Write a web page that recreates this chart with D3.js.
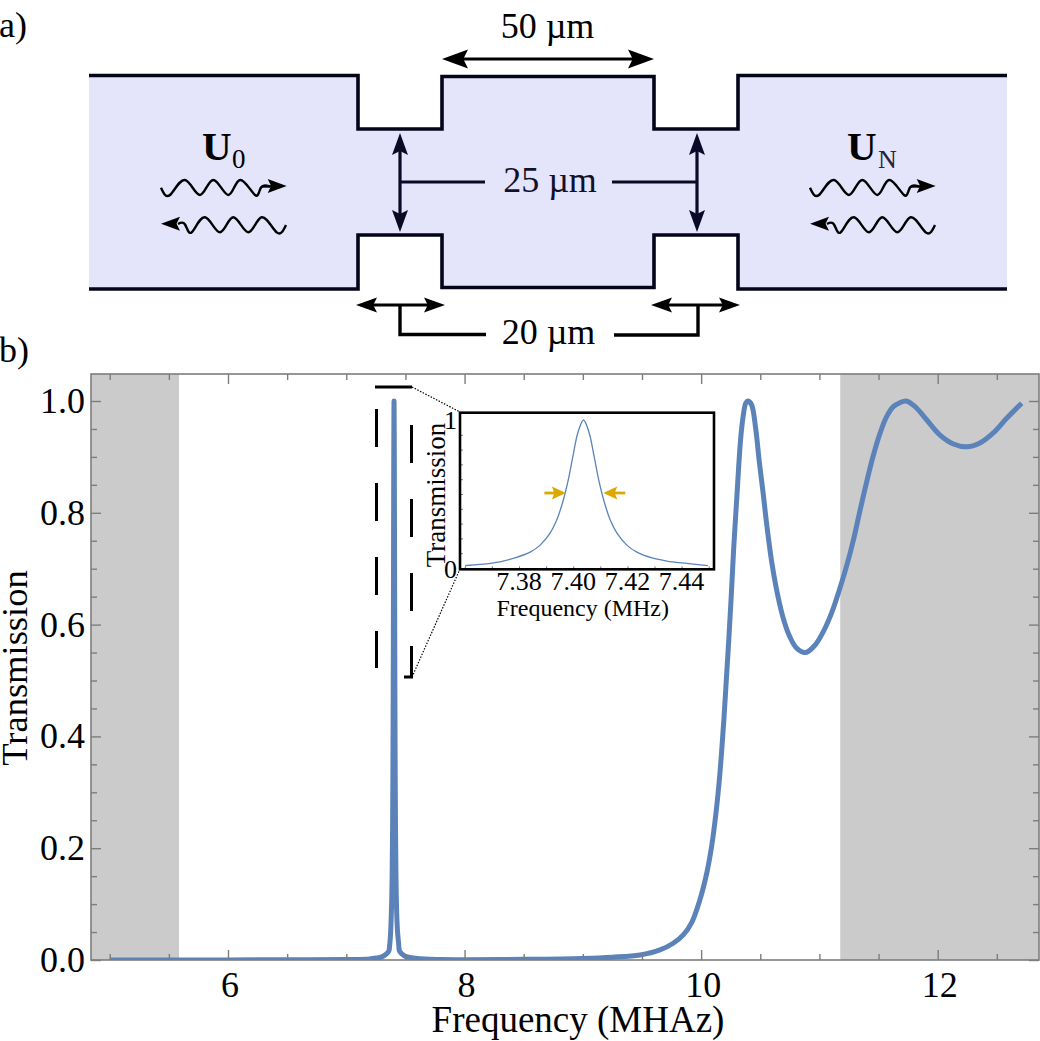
<!DOCTYPE html>
<html><head><meta charset="utf-8">
<script src="https://cdn.jsdelivr.net/npm/d3@7"></script>
<style>
html,body{margin:0;padding:0;background:#fff;overflow:hidden}
svg{display:block}
text{font-family:"Liberation Serif",serif;fill:#000}
</style></head><body>
<svg id="c" width="1040" height="1041"></svg>
<script>
// ---- chart data ----
const lowFreq  = [5,5.5,6,6.5,7,7.2,7.3,7.34];
const lowTrans = [0.0001,0.0001,0.0002,0.0003,0.0008,0.002,0.0055,0.011];
const peakFreq  = [7.3601,7.3656,7.3730,7.3785,7.3841,7.3877,7.3914,7.3940,7.3962,7.3981,7.3999,7.4018,7.4038,7.4058,7.4077,7.4095,7.4114,7.4136,7.4162,7.4199,7.4235,7.4291,7.4346,7.4420,7.4497];
const peakTrans = [0.016,0.024,0.042,0.068,0.107,0.153,0.234,0.328,0.449,0.588,0.756,0.919,1,0.919,0.756,0.588,0.449,0.328,0.234,0.153,0.107,0.068,0.047,0.031,0.016];
const midFreq  = [7.47,7.5,7.6,7.8,8,8.5,9,9.25];
const midTrans = [0.0108,0.0065,0.0025,0.0008,0.0006,0.0012,0.0028,0.005];
const riseFreq  = [9.483,9.652,9.764,9.849,9.92,9.99,10.047,10.09,10.125,10.153,10.173,10.193,10.214,10.233,10.253,10.275,10.303,10.320,10.337,10.357,10.377,10.399,10.427,10.461,10.492,10.526,10.554,10.596,10.647,10.703,10.75,10.807,10.883,10.962,11.032,11.103,11.173,11.23,11.286,11.342,11.399,11.455,11.512,11.568,11.625,11.68,11.733,11.809,11.908,12.02,12.133,12.245,12.357,12.47,12.583,12.71];
const riseTrans = [0.009,0.018,0.03,0.045,0.067,0.108,0.155,0.205,0.262,0.32,0.372,0.432,0.505,0.57,0.645,0.735,0.832,0.891,0.939,0.975,0.996,1,0.993,0.951,0.891,0.832,0.78,0.713,0.653,0.605,0.578,0.558,0.55,0.563,0.587,0.621,0.665,0.705,0.75,0.803,0.855,0.902,0.942,0.972,0.99,0.997,1,0.99,0.966,0.939,0.923,0.918,0.925,0.943,0.969,0.996];
const bandLow = [4.84,5.586];
const bandHigh = [11.176,12.855];
const xMajor = [6,8,10,12];
const xMinor = [5,5.5,6.5,7,7.5,8.5,9,9.5,10.5,11,11.5,12.5];
const yMajor = [0,0.2,0.4,0.6,0.8,1];
const yMinor = [0.05,0.1,0.15,0.25,0.3,0.35,0.45,0.5,0.55,0.65,0.7,0.75,0.85,0.9,0.95];
const insetXTicks = [7.38,7.40,7.42,7.44];
const insetXMinor = [7.36,7.37,7.39,7.41,7.43,7.45];
const insetYMinor = [0.1,0.2,0.3,0.4,0.5,0.6,0.7,0.8,0.9];
const halfMaxLeft = 7.3973, halfMaxRight = 7.4111, halfMax = 0.5;

// ---- schematic outline (pixel-space drawing, not data) ----
const channelTop = [[89,75.5],[358,75.5],[358,129],[442,129],[442,76.5],[654,76.5],[654,129],[738,129],[738,75.5],[1007,75.5]];
const channelBottom = [[89,289],[358,289],[358,235],[442,235],[442,287.5],[654,287.5],[654,235],[738,235],[738,289],[1007,289]];
const waveRight = [[161,187.7],[170,195],[185,180],[200,195],[213.3,180],[228.3,195],[240,180],[255,195],[261,187.5],[270,186.5]];
const waveLeft = [[286,225],[276.7,232.3],[261.7,217.3],[248.3,232.3],[233.3,217.3],[220,232.3],[205,217.3],[191.7,232.3],[185,224.5],[178,224]];

const svg = d3.select("#c");
const M = {l:91,r:1039,t:374,b:960};
const x = d3.scaleLinear().domain([6,12]).range([228,937.7]);
const y = d3.scaleLinear().domain([0,1]).range([960,401]);
const ix = d3.scaleLinear().domain([7.38,7.44]).range([519,681.6]);
const iy = d3.scaleLinear().domain([0,1]).range([568,420]);
const blue = "#5b83b9", frame = "#7d7d7d", navy = "#0a0a28", gold = "#dca800";

function txt(g,s,px,py,size,anchor,opts){
  const t=g.append("text").attr("x",px).attr("y",py).attr("font-size",size).attr("text-anchor",anchor||"start").text(s);
  if(opts&&opts.bold) t.attr("font-weight","bold");
  if(opts&&opts.rot!=null) t.attr("transform",`rotate(${opts.rot} ${px} ${py})`);
  if(opts&&opts.fill) t.style("fill",opts.fill);
  return t;
}
function head(g,tx,ty,dx,dy,L,H,col){
  const px=-dy,py=dx, bx=tx-dx*L, by=ty-dy*L, nx=tx-dx*L*0.82, ny=ty-dy*L*0.82;
  g.append("path").attr("d",`M${tx},${ty}L${bx+px*H/2},${by+py*H/2}L${nx},${ny}L${bx-px*H/2},${by-py*H/2}Z`).attr("fill",col);
}
function seg(g,pts,w,col){
  g.append("path").attr("d",d3.line()(pts)).attr("fill","none").attr("stroke",col).attr("stroke-width",w).attr("stroke-linejoin","miter");
}

// ---- panel a ----
const a = svg.append("g");
a.append("path").attr("d",d3.line()(channelTop.concat(channelBottom.slice().reverse()))+"Z").attr("fill","#e4e4fb");
seg(a,channelTop,3.6,"#05051a"); seg(a,channelBottom,3.6,"#05051a");

txt(a,"a)",-1,37,36);
txt(svg,"b)",-1,362,36);

// dimension: 50
seg(a,[[460,59],[636,59]],3.2,"#000");
head(a,442,59,-1,0,26,19,"#000"); head(a,654,59,1,0,26,19,"#000");
txt(a,"50 µm",547.5,38,36,"middle");
// dimension: 25
[400,697].forEach(vx=>{
  seg(a,[[vx,148],[vx,216]],3.2,navy);
  head(a,vx,133,0,-1,22,16,navy); head(a,vx,232,0,1,22,16,navy);
});
seg(a,[[400,182],[485,182]],3.2,navy);
seg(a,[[612,182],[697,182]],3.2,navy);
txt(a,"25 µm",550,192,36,"middle",{fill:"#111128"});
// dimension: 20
[[356,445],[651,740]].forEach(([p,q])=>{
  seg(a,[[p+14,305],[q-14,305]],2.8,"#000");
  head(a,p,305,-1,0,21,15,"#000"); head(a,q,305,1,0,21,15,"#000");
});
seg(a,[[400,305],[400,334.5],[486,334.5]],3.4,"#000");
seg(a,[[698,305],[698,335],[614,335]],3.4,"#000");
txt(a,"20 µm",548.5,344,36,"middle");
// waves
const wave = d3.line().curve(d3.curveNatural);
[0,649].forEach(off=>{
  const g=a.append("g").attr("transform",`translate(${off},0)`);
  g.append("path").attr("d",wave(waveRight)).attr("fill","none").attr("stroke","#000").attr("stroke-width",2.4);
  seg(g,[[262,186.6],[275,186.2]],2.4,"#000");
  head(g,286.7,186,1,0,19,14,"#000");
  g.append("path").attr("d",wave(waveLeft)).attr("fill","none").attr("stroke","#000").attr("stroke-width",2.4);
  head(g,161,223.7,-1,0,19,14,"#000");
});
txt(a,"U",202,160,41,"start",{bold:true});
txt(a,"0",232,168,27);
txt(a,"U",847,160,41,"start",{bold:true});
txt(a,"N",878,168,26,"start",{fill:"#222238"});

// ---- panel b ----
const b = svg.append("g");
[bandLow,bandHigh].forEach(d=>{
  b.append("rect").attr("x",Math.max(M.l,x(d[0]))).attr("y",M.t)
    .attr("width",Math.min(M.r,x(d[1]))-Math.max(M.l,x(d[0]))).attr("height",M.b-M.t).attr("fill","#cbcbcb");
});
svg.append("defs").append("clipPath").attr("id","plot").append("rect").attr("x",M.l).attr("y",M.t).attr("width",M.r-M.l).attr("height",M.b-M.t);

const freq = lowFreq.concat(peakFreq,midFreq,riseFreq);
const trans = lowTrans.concat(peakTrans,midTrans,riseTrans);
const line = d3.line().x(i=>x(freq[i])).y(i=>y(trans[i])).curve(d3.curveCatmullRom.alpha(0.5));
b.append("path").attr("clip-path","url(#plot)").attr("d",line(d3.range(freq.length)))
  .attr("fill","none").attr("stroke",blue).attr("stroke-width",5).attr("stroke-linejoin","round");

function styleAxis(g,col,sw){ g.selectAll("path").remove(); g.selectAll("line").attr("stroke",col).attr("stroke-width",sw); }
const mkX=(gen,vals,size,ty)=>{const g=b.append("g").attr("transform",`translate(0,${ty})`).call(gen(x).tickValues(vals).tickSize(-size).tickFormat(""));styleAxis(g,frame,1.4);g.selectAll("text").remove();return g;};
const mkY=(gen,vals,size,tx)=>{const g=b.append("g").attr("transform",`translate(${tx},0)`).call(gen(y).tickValues(vals).tickSize(-size).tickFormat(""));styleAxis(g,frame,1.4);g.selectAll("text").remove();return g;};
mkX(d3.axisBottom,xMajor,10,M.b); mkX(d3.axisBottom,xMinor,6,M.b);
mkX(d3.axisTop,xMajor,10,M.t); mkX(d3.axisTop,xMinor,6,M.t);
mkY(d3.axisLeft,yMajor,10,M.l); mkY(d3.axisLeft,yMinor,6,M.l);
mkY(d3.axisRight,yMajor,10,M.r); mkY(d3.axisRight,yMinor,6,M.r);
b.append("rect").attr("x",M.l).attr("y",M.t).attr("width",M.r-M.l).attr("height",M.b-M.t).attr("fill","none").attr("stroke",frame).attr("stroke-width",1.6);

xMajor.forEach(v=>txt(b,String(v),x(v)+2,997,36,"middle"));
yMajor.forEach(v=>txt(b,d3.format(".1f")(v),85,y(v)+12,36,"end"));
txt(b,"Frequency (MHAz)",578,1032,37,"middle");
txt(b,"Transmission",27,668,36.5,"middle",{rot:-90});

// zoom box (dashed) and leader lines
b.append("line").attr("x1",376.5).attr("x2",376.5).attr("y1",409).attr("y2",668).attr("stroke","#000").attr("stroke-width",3).attr("stroke-dasharray","38 36");
b.append("line").attr("x1",411.5).attr("x2",411.5).attr("y1",425).attr("y2",611).attr("stroke","#000").attr("stroke-width",3).attr("stroke-dasharray","38 36");
seg(b,[[411.5,646],[411.5,677],[404,677]],3,"#000");
seg(b,[[375,387],[412,387]],3,"#000");
[[412,387,460,412],[412,677,460,569]].forEach(d=>b.append("line").attr("x1",d[0]).attr("y1",d[1]).attr("x2",d[2]).attr("y2",d[3]).attr("stroke","#000").attr("stroke-width",1.2).attr("stroke-dasharray","1.5 1.5"));

// ---- inset ----
const ins = svg.append("g");
const iB = {l:460,r:714,t:412.7,b:569.3};
ins.append("rect").attr("x",iB.l).attr("y",iB.t).attr("width",iB.r-iB.l).attr("height",iB.b-iB.t).attr("fill","#fff");
const ig1=ins.append("g").attr("transform",`translate(0,${iB.b})`).call(d3.axisBottom(ix).tickValues(insetXTicks.concat(insetXMinor)).tickSize(-3).tickFormat(""));
styleAxis(ig1,"#555",0.8);
const ig2=ins.append("g").attr("transform",`translate(${iB.l},0)`).call(d3.axisLeft(iy).tickValues(insetYMinor).tickSize(-3).tickFormat(""));
styleAxis(ig2,"#555",0.8);
const iline=d3.line().x(d=>ix(d)).y((d,i)=>iy(peakTrans[i])).curve(d3.curveCatmullRom.alpha(0.5));
ins.append("path").attr("d",iline(peakFreq)).attr("fill","none").attr("stroke",blue).attr("stroke-width",1.3);
ins.append("rect").attr("x",iB.l).attr("y",iB.t).attr("width",iB.r-iB.l).attr("height",iB.b-iB.t).attr("fill","none").attr("stroke","#000").attr("stroke-width",2.6);
// half-maximum arrows
const hl=ix(halfMaxLeft), hr=ix(halfMaxRight), hy=iy(halfMax)-1;
seg(ins,[[hl-21.5,hy],[hl-8,hy]],2.8,gold); head(ins,hl,hy,1,0,14,13,gold);
seg(ins,[[hr+22,hy],[hr+8,hy]],2.8,gold); head(ins,hr,hy,-1,0,14,13,gold);
insetXTicks.forEach(v=>txt(ins,d3.format(".2f")(v),ix(v),590,26,"middle"));
txt(ins,"1",457,429,26,"end");
txt(ins,"0",457,578,26,"end");
txt(ins,"Frequency (MHz)",582.7,616,24,"middle");
txt(ins,"Transmission",445,495,27,"middle",{rot:-90});
</script>
</body></html>
